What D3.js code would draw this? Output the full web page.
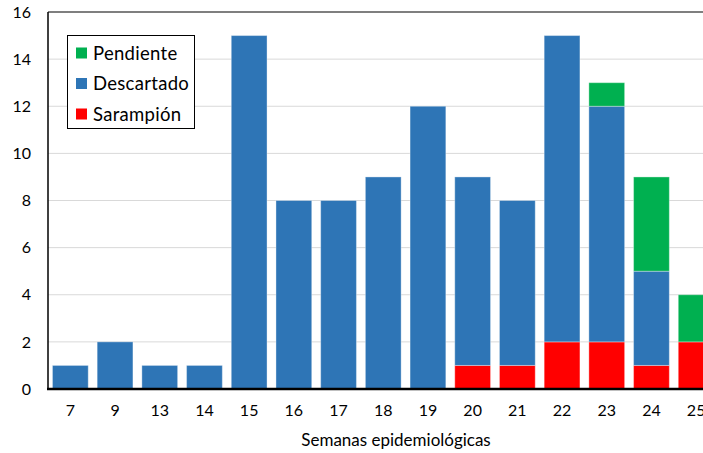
<!DOCTYPE html>
<html><head><meta charset="utf-8">
<script src="https://cdn.jsdelivr.net/npm/d3@7"></script>
<style>body{margin:0;background:#fff;}svg{display:block;font-family:Lato,"Open Sans",sans-serif;}</style>
</head><body>
<svg id="c" width="703" height="453"></svg>
<script>
const weeks = ["7","9","13","14","15","16","17","18","19","20","21","22","23","24","25"];
const sarampion = [0,0,0,0,0,0,0,0,0,1,1,2,2,1,2];
const descartado = [1,2,1,1,15,8,8,9,12,8,7,13,10,4,0];
const pendiente = [0,0,0,0,0,0,0,0,0,0,0,0,1,4,2];
const yTicks = [0,2,4,6,8,10,12,14,16];
const seriesNames = ["Sarampión","Descartado","Pendiente"];
const colors = {"Sarampión":"#FF0000","Descartado":"#2E75B6","Pendiente":"#00B050"};

const svg = d3.select("#c");
const L = 48, T = 12, B = 389, R = 48 + 15*44.7;
const x = d3.scaleBand().domain(weeks).range([L, R]).paddingInner(0.2).paddingOuter(0.1);
const y = d3.scaleLinear().domain([0,16]).range([B, T]);

const table = weeks.map((w,i)=>({week:w, "Sarampión":sarampion[i], "Descartado":descartado[i], "Pendiente":pendiente[i]}));
const stack = d3.stack().keys(seriesNames)(table);

// grid
svg.append("g").selectAll("line").data(yTicks.filter(d=>d>0 && d<16)).join("line")
  .attr("x1", L).attr("x2", 703).attr("y1", d=>y(d)).attr("y2", d=>y(d))
  .attr("stroke", "#d9d9d9").attr("stroke-width", 1);

// bars
svg.append("g").selectAll("g").data(stack).join("g")
  .attr("fill", d=>colors[d.key])
  .selectAll("rect").data(d=>d.filter(p=>p[1]-p[0]>0)).join("rect")
  .attr("x", d=>x(d.data.week)).attr("width", x.bandwidth())
  .attr("y", d=>y(d[1])).attr("height", d=>y(d[0])-y(d[1]))
  .attr("stroke", "rgba(255,255,255,0.35)").attr("stroke-width", 1);

// frame
svg.append("line").attr("x1", L).attr("x2", 703).attr("y1", T).attr("y2", T).attr("stroke", "#000").attr("stroke-width", 1.2);
svg.append("line").attr("x1", L).attr("x2", L).attr("y1", T).attr("y2", B).attr("stroke", "#000").attr("stroke-width", 1.5);

// y axis
const ya = d3.axisLeft(y).tickValues(yTicks).tickSize(0).tickPadding(17);
svg.append("g").attr("transform", `translate(${L},0)`).call(ya)
  .call(g=>g.select(".domain").remove())
  .selectAll("text").attr("font-size", 16).attr("fill", "#000").attr("font-family", "Lato,'Open Sans',sans-serif");

// x axis
const xa = d3.axisBottom(x).tickSize(0).tickPadding(16);
svg.append("g").attr("transform", `translate(0,${B})`).call(xa)
  .call(g=>g.select(".domain").remove())
  .selectAll("text").attr("font-size", 16).attr("fill", "#000").attr("font-family", "Lato,'Open Sans',sans-serif");
svg.append("line").attr("x1", L-1).attr("x2", 703).attr("y1", B).attr("y2", B).attr("stroke", "#000").attr("stroke-width", 2.5);

svg.append("text").attr("x", 396).attr("y", 446).attr("text-anchor", "middle")
  .attr("font-size", 17).attr("fill", "#000").text("Semanas epidemiológicas");

// legend
const lg = svg.append("g");
lg.append("rect").attr("x", 67.5).attr("y", 35.5).attr("width", 127).attr("height", 93)
  .attr("fill", "#fff").attr("stroke", "#000").attr("stroke-width", 1);
const legendOrder = ["Pendiente","Descartado","Sarampión"];
legendOrder.forEach((k,i)=>{
  const cy = 53 + i*30.5;
  lg.append("rect").attr("x", 76).attr("y", cy-5.5).attr("width", 11).attr("height", 11).attr("fill", colors[k]);
  lg.append("text").attr("x", 93).attr("y", cy+6.5).attr("font-size", 18.5).attr("letter-spacing", 0.3).attr("fill", "#000").text(k);
});
</script>
</body></html>
